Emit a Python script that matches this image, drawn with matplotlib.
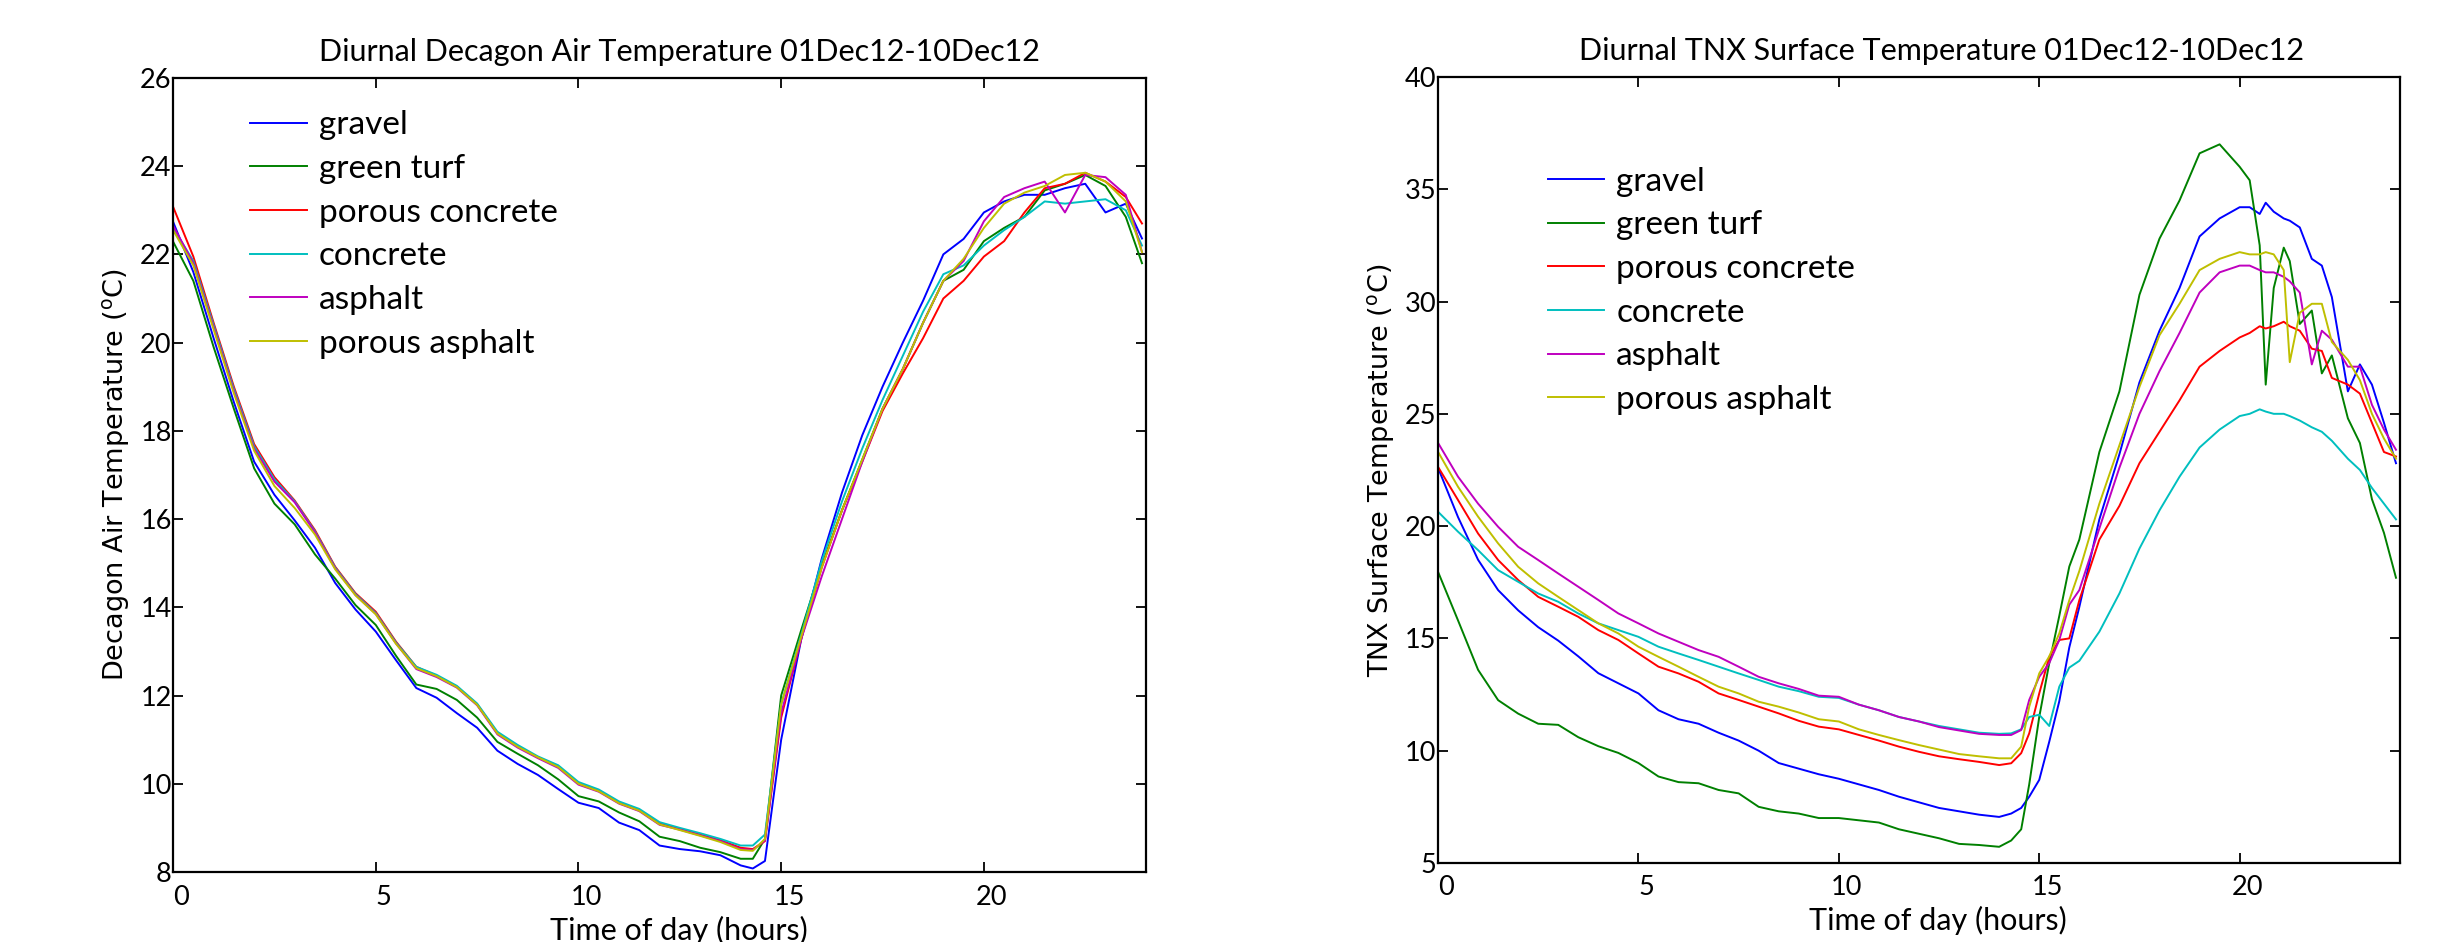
import numpy as np
import matplotlib
matplotlib.use("Agg")
import matplotlib.pyplot as plt
import matplotlib.transforms as mtransforms

# ---------------- data ----------------
labels = ["gravel", "green turf", "porous concrete", "concrete", "asphalt", "porous asphalt"]
colors = ["b", "g", "r", "c", "m", "y"]

# left panel: Decagon air temperature
hours_air = [0, 0.5, 1, 1.5, 2, 2.5, 3, 3.5, 4, 4.5, 5, 5.5, 6, 6.5, 7, 7.5, 8, 8.5, 9, 9.5,
             10, 10.5, 11, 11.5, 12, 12.5, 13, 13.5, 14, 14.3, 14.6, 15, 15.5, 16, 16.5, 17,
             17.5, 18, 18.5, 19, 19.5, 20, 20.5, 21, 21.5, 22, 22.5, 23, 23.5, 23.9]

air_gravel = [22.74, 21.6, 20.1, 18.65, 17.3, 16.55, 15.97, 15.35, 14.55, 13.95, 13.45, 12.8,
              12.17, 11.95, 11.6, 11.27, 10.75, 10.45, 10.2, 9.88, 9.57, 9.45, 9.12, 8.95, 8.6,
              8.52, 8.47, 8.38, 8.15, 8.08, 8.25, 11.0, 13.3, 15.1, 16.6, 17.9, 19.0, 20.0,
              20.95, 22.0, 22.35, 22.95, 23.2, 23.35, 23.35, 23.5, 23.6, 22.95, 23.15, 22.36]
air_turf = [22.29, 21.4, 19.9, 18.5, 17.15, 16.35, 15.88, 15.2, 14.65, 14.05, 13.6, 12.9,
            12.25, 12.15, 11.9, 11.5, 10.95, 10.68, 10.42, 10.1, 9.72, 9.6, 9.35, 9.15, 8.8,
            8.7, 8.55, 8.45, 8.3, 8.3, 8.75, 12.0, 13.5, 14.95, 16.2, 17.35, 18.5, 19.4,
            20.45, 21.4, 21.65, 22.3, 22.6, 22.85, 23.45, 23.6, 23.8, 23.55, 22.85, 21.8]
air_porous_concrete = [23.08, 21.95, 20.45, 19.0, 17.7, 16.95, 16.42, 15.75, 14.92, 14.32, 13.9,
                       13.22, 12.65, 12.45, 12.2, 11.8, 11.15, 10.85, 10.6, 10.4, 10.0, 9.85,
                       9.57, 9.4, 9.1, 8.97, 8.85, 8.72, 8.55, 8.52, 8.7, 11.5, 13.3, 14.9, 16.2,
                       17.3, 18.45, 19.3, 20.1, 21.0, 21.4, 21.95, 22.3, 22.95, 23.5, 23.6, 23.85,
                       23.65, 23.3, 22.7]
air_concrete = [22.6, 21.85, 20.4, 18.95, 17.65, 16.9, 16.4, 15.72, 14.9, 14.3, 13.87, 13.2,
                12.65, 12.47, 12.22, 11.82, 11.18, 10.88, 10.62, 10.42, 10.04, 9.87, 9.6, 9.43,
                9.13, 9.0, 8.88, 8.75, 8.6, 8.6, 8.85, 11.8, 13.4, 15.05, 16.4, 17.6, 18.7, 19.7,
                20.7, 21.55, 21.75, 22.2, 22.55, 22.85, 23.2, 23.15, 23.2, 23.25, 23.0, 22.2]
air_asphalt = [22.65, 21.8, 20.35, 18.9, 17.6, 16.85, 16.38, 15.7, 14.88, 14.28, 13.85, 13.18,
               12.6, 12.42, 12.18, 11.78, 11.12, 10.82, 10.58, 10.36, 9.98, 9.82, 9.55, 9.38,
               9.07, 8.96, 8.83, 8.7, 8.52, 8.5, 8.72, 11.6, 13.3, 14.7, 16.0, 17.3, 18.5, 19.4,
               20.45, 21.4, 21.85, 22.75, 23.3, 23.5, 23.65, 22.95, 23.8, 23.75, 23.35, 22.05]
air_porous_asphalt = [22.55, 21.75, 20.3, 18.85, 17.55, 16.75, 16.25, 15.65, 14.86, 14.27,
                      13.84, 13.17, 12.62, 12.44, 12.19, 11.79, 11.14, 10.84, 10.6, 10.38, 10.0,
                      9.83, 9.56, 9.39, 9.08, 8.95, 8.82, 8.68, 8.5, 8.48, 8.75, 11.8, 13.35,
                      14.9, 16.2, 17.35, 18.5, 19.4, 20.45, 21.4, 21.9, 22.6, 23.15, 23.4, 23.55,
                      23.8, 23.85, 23.65, 23.2, 22.05]

# right panel: TNX surface temperature
hours_surf = [0, 0.5, 1, 1.5, 2, 2.5, 3, 3.5, 4, 4.5, 5, 5.5, 6, 6.5, 7, 7.5, 8, 8.5, 9, 9.5,
              10, 10.5, 11, 11.5, 12, 12.5, 13, 13.5, 14, 14.3, 14.55, 14.75, 15, 15.25, 15.5,
              15.75, 16, 16.5, 17, 17.5, 18, 18.5, 19, 19.5, 20, 20.25, 20.5, 20.65, 20.85,
              21.1, 21.25, 21.5, 21.8, 22.05, 22.3, 22.7, 23, 23.3, 23.6, 23.9]

surf_gravel = [22.6, 20.4, 18.5, 17.15, 16.25, 15.5, 14.9, 14.2, 13.45, 13.0, 12.55, 11.8, 11.4,
               11.2, 10.8, 10.45, 10.0, 9.45, 9.2, 8.95, 8.75, 8.5, 8.25, 7.95, 7.7, 7.45, 7.3,
               7.15, 7.05, 7.2, 7.45, 7.95, 8.7, 10.4, 12.2, 14.6, 16.4, 20.3, 23.2, 26.4, 28.7,
               30.6, 32.9, 33.7, 34.2, 34.2, 33.9, 34.4, 34.0, 33.7, 33.6, 33.3, 31.9, 31.6,
               30.2, 26.0, 27.2, 26.3, 24.6, 22.8]
surf_turf = [17.97, 15.8, 13.6, 12.25, 11.65, 11.2, 11.15, 10.6, 10.2, 9.9, 9.45, 8.85, 8.6,
             8.55, 8.25, 8.1, 7.5, 7.3, 7.2, 7.0, 7.0, 6.9, 6.8, 6.5, 6.3, 6.1, 5.85, 5.8, 5.72,
             6.0, 6.5, 8.5, 11.5, 13.9, 16.0, 18.2, 19.4, 23.3, 26.0, 30.3, 32.8, 34.5, 36.6,
             37.0, 36.0, 35.4, 32.5, 26.3, 30.6, 32.4, 31.8, 29.0, 29.6, 26.8, 27.6, 24.8, 23.7,
             21.2, 19.7, 17.7]
surf_porous_concrete = [22.64, 21.16, 19.67, 18.49, 17.6, 16.85, 16.41, 15.96, 15.37, 14.93,
                        14.33, 13.74, 13.44, 13.07, 12.55, 12.26, 11.96, 11.66, 11.33, 11.07,
                        10.95, 10.7, 10.45, 10.18, 9.95, 9.75, 9.62, 9.5, 9.36, 9.44, 9.89,
                        10.77, 12.55, 14.18, 14.93, 15.0, 16.7, 19.4, 20.9, 22.8, 24.2, 25.6,
                        27.1, 27.8, 28.4, 28.6, 28.9, 28.8, 28.9, 29.1, 28.9, 28.7, 27.9, 27.8,
                        26.6, 26.3, 25.9, 24.6, 23.3, 23.1]
surf_concrete = [20.64, 19.75, 18.93, 18.04, 17.52, 17.0, 16.63, 16.11, 15.67, 15.37, 15.07,
                 14.63, 14.33, 14.04, 13.74, 13.44, 13.15, 12.85, 12.65, 12.4, 12.35, 12.05,
                 11.8, 11.5, 11.3, 11.1, 10.95, 10.8, 10.75, 10.77, 10.95, 11.5, 11.6, 11.1,
                 12.85, 13.7, 14.0, 15.3, 17.0, 19.0, 20.7, 22.2, 23.5, 24.3, 24.9, 25.0, 25.2,
                 25.1, 25.0, 25.0, 24.9, 24.7, 24.4, 24.2, 23.8, 23.0, 22.5, 21.7, 21.0, 20.3]
surf_asphalt = [23.71, 22.2, 21.0, 19.97, 19.08, 18.49, 17.89, 17.3, 16.71, 16.11, 15.67, 15.22,
                14.85, 14.48, 14.18, 13.74, 13.29, 13.0, 12.75, 12.45, 12.4, 12.05, 11.8, 11.5,
                11.3, 11.05, 10.9, 10.75, 10.7, 10.7, 10.92, 12.26, 13.29, 13.9, 14.93, 16.5,
                17.15, 19.9, 22.6, 25.0, 26.9, 28.6, 30.4, 31.3, 31.6, 31.6, 31.4, 31.3, 31.3,
                31.1, 30.9, 30.4, 27.2, 28.7, 28.3, 27.1, 27.1, 25.4, 24.3, 23.4]
surf_porous_asphalt = [23.31, 21.75, 20.42, 19.23, 18.19, 17.45, 16.85, 16.26, 15.67, 15.22,
                       14.63, 14.18, 13.74, 13.29, 12.85, 12.55, 12.18, 11.96, 11.7, 11.4, 11.3,
                       10.95, 10.7, 10.47, 10.25, 10.05, 9.85, 9.75, 9.66, 9.66, 10.18, 11.96,
                       13.44, 14.2, 15.22, 16.7, 18.0, 21.0, 23.6, 26.2, 28.5, 29.9, 31.4, 31.9,
                       32.2, 32.1, 32.1, 32.2, 32.1, 31.4, 27.3, 29.5, 29.9, 29.9, 28.2, 27.4,
                       26.5, 25.0, 23.9, 23.0]

air_series = [air_gravel, air_turf, air_porous_concrete, air_concrete, air_asphalt, air_porous_asphalt]
surf_series = [surf_gravel, surf_turf, surf_porous_concrete, surf_concrete, surf_asphalt, surf_porous_asphalt]

# ---------------- figure ----------------
fig = plt.figure(figsize=(24.41, 9.42), dpi=100)
ax1 = fig.add_axes([0.0709, 0.0743, 0.3986, 0.843])
ax2 = fig.add_axes([0.5891, 0.0839, 0.3941, 0.8344])

txt_font = "Lato"
leg_opts = dict(loc="upper left", frameon=False, prop={"family": txt_font, "size": 24},
                handlelength=1.7, handletextpad=0.36, labelspacing=0.41,
                borderpad=0, borderaxespad=0)


def style_axes(ax, yticks, ylim):
    ax.set_xlim(0, 24)
    ax.set_ylim(*ylim)
    ax.set_xticks([0, 5, 10, 15, 20])
    ax.set_yticks(yticks)
    ax.tick_params(direction="in", length=7, width=1.3, top=True, right=True,
                   labelsize=19.5, pad=1)
    ax.tick_params(axis="x", pad=9)
    for lab in ax.get_xticklabels() + ax.get_yticklabels():
        lab.set_fontfamily(txt_font)
    # labels sit a bit right of the ticks in the original export
    shift = mtransforms.ScaledTranslation(8 / 100, 0, fig.dpi_scale_trans)
    for lab in ax.get_xticklabels():
        lab.set_transform(lab.get_transform() + shift)
    for s in ax.spines.values():
        s.set_linewidth(1.6)


# left: air temperature
for vals, c, lab in zip(air_series, colors, labels):
    ax1.plot(hours_air, vals, color=c, lw=1.4, label=lab)
style_axes(ax1, list(range(8, 27, 2)), (8, 26))
ax1.set_title("Diurnal Decagon Air Temperature 01Dec12-10Dec12", fontsize=22,
              fontfamily=txt_font, x=0.52, pad=12)
ax1.set_xlabel("Time of day (hours)", fontsize=22, fontfamily=txt_font)
ax1.xaxis.set_label_coords(0.52, -0.055)
ax1.set_ylabel("Decagon Air Temperature ($^{\\rm o}$C)", fontsize=19.5,
               fontfamily="DejaVu Sans", labelpad=6)
ax1.legend(bbox_to_anchor=(0.079, 0.959), **leg_opts)

# right: surface temperature
for vals, c, lab in zip(surf_series, colors, labels):
    ax2.plot(hours_surf, vals, color=c, lw=1.4, label=lab)
style_axes(ax2, list(range(5, 41, 5)), (5, 40))
ax2.set_title("Diurnal TNX Surface Temperature 01Dec12-10Dec12", fontsize=22,
              fontfamily=txt_font, x=0.523, pad=12)
ax2.set_xlabel("Time of day (hours)", fontsize=22, fontfamily=txt_font)
ax2.xaxis.set_label_coords(0.52, -0.055)
ax2.set_ylabel("TNX Surface Temperature ($^{\\rm o}$C)", fontsize=19.5,
               fontfamily="DejaVu Sans", labelpad=6)
ax2.legend(bbox_to_anchor=(0.114, 0.886), **leg_opts)

fig.savefig("out.png", dpi=100)
